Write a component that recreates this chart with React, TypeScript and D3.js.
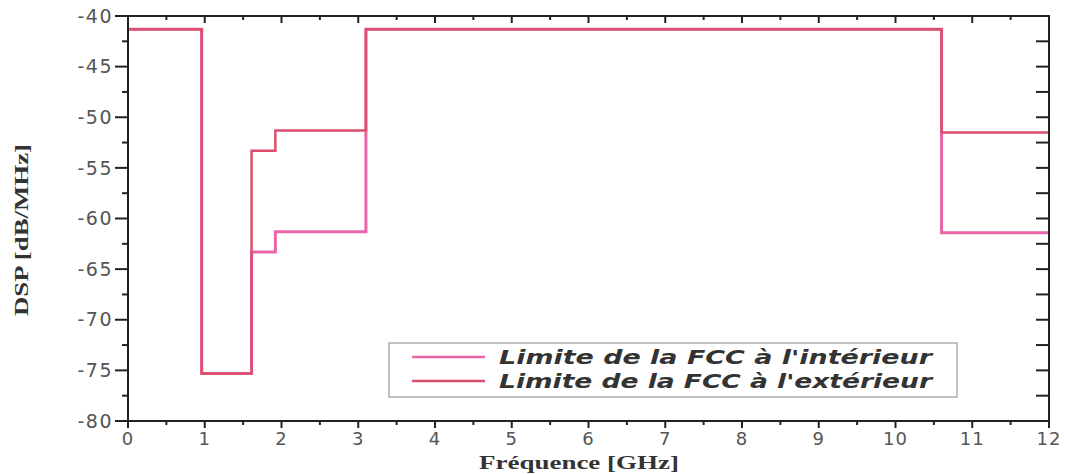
import React from "react";
import * as d3 from "d3";

const freqBreaks = [0, 0.96, 1.61, 1.92, 3.1, 10.6, 12];
const indoorValues = [-41.3, -75.3, -63.3, -61.3, -41.3, -61.4];
const outdoorValues = [-41.3, -75.3, -53.3, -51.3, -41.3, -51.5];
const xTicks = [0, 1, 2, 3, 4, 5, 6, 7, 8, 9, 10, 11, 12];
const yTicks = [-40, -45, -50, -55, -60, -65, -70, -75, -80];
const seriesNames = ["Limite de la FCC à l'intérieur", "Limite de la FCC à l'extérieur"];
const seriesColors = ["#e866a8", "#dc4f6c"];

const W = 1065, H = 474;
const L = 128, R = 1049, T = 16, B = 421;

function stepPoints(vals: number[]): [number, number][] {
  const pts: [number, number][] = [];
  vals.forEach((v, i) => {
    pts.push([freqBreaks[i], v]);
    pts.push([freqBreaks[i + 1], v]);
  });
  return pts;
}

export default function App() {
  const x = d3.scaleLinear().domain([0, 12]).range([L, R]);
  const y = d3.scaleLinear().domain([-80, -40]).range([B, T]);
  const line = d3.line<[number, number]>().x(d => x(d[0])).y(d => y(d[1]));
  const xMinor = d3.range(0.5, 12, 1);
  const yMinor = d3.range(-77.5, -40, 5);
  const axisColor = "#222";
  const tickFont = "DejaVu Sans, Verdana, sans-serif";
  const serif = "Liberation Serif, Times New Roman, serif";

  return (
    <svg width={W} height={H} style={{ position: "absolute", left: 0, top: 0, background: "#fff" }}>
      {/* series */}
      <path d={line(stepPoints(indoorValues)) || ""} fill="none" stroke={seriesColors[0]} strokeWidth={3} />
      <path d={line(stepPoints(outdoorValues)) || ""} fill="none" stroke={seriesColors[1]} strokeWidth={2.5} />

      {/* frame */}
      <rect x={L} y={T} width={R - L} height={B - T} fill="none" stroke={axisColor} strokeWidth={2} />

      {/* bottom ticks (outward) and top ticks (inward) */}
      {xTicks.map(t => (
        <g key={"xt" + t}>
          <line x1={x(t)} x2={x(t)} y1={B} y2={B + 7} stroke={axisColor} strokeWidth={2} />
          <line x1={x(t)} x2={x(t)} y1={T} y2={T + 7} stroke={axisColor} strokeWidth={2} />
          <text x={x(t)} y={445} textAnchor="middle" fontSize={18} letterSpacing={1} fill="#555" fontFamily={tickFont}>{t}</text>
        </g>
      ))}
      {xMinor.map(t => (
        <g key={"xm" + t}>
          <line x1={x(t)} x2={x(t)} y1={B} y2={B + 4} stroke={axisColor} strokeWidth={2} />
          <line x1={x(t)} x2={x(t)} y1={T} y2={T + 4} stroke={axisColor} strokeWidth={2} />
        </g>
      ))}

      {/* left ticks (outward) and right ticks (inward) */}
      {yTicks.map(t => (
        <g key={"yt" + t}>
          <line x1={L - 13} x2={L} y1={y(t)} y2={y(t)} stroke={axisColor} strokeWidth={2} />
          <line x1={R - 13} x2={R} y1={y(t)} y2={y(t)} stroke={axisColor} strokeWidth={2} />
          <text x={L - 15} y={y(t)} dy="0.35em" textAnchor="end" fontSize={19} letterSpacing={1.5} fill="#555" fontFamily={tickFont}>{t}</text>
        </g>
      ))}
      {yMinor.map(t => (
        <g key={"ym" + t}>
          <line x1={L - 6} x2={L} y1={y(t)} y2={y(t)} stroke={axisColor} strokeWidth={2} />
          <line x1={R - 13} x2={R} y1={y(t)} y2={y(t)} stroke={axisColor} strokeWidth={2} />
        </g>
      ))}

      {/* axis titles */}
      <text x={579} y={469} textAnchor="middle" fontSize={19} fontWeight="bold" fill="#333" fontFamily={serif} textLength={200} lengthAdjust="spacingAndGlyphs">Fréquence [GHz]</text>
      <text transform={`translate(28,230) rotate(-90)`} textAnchor="middle" fontSize={19} fontWeight="bold" fill="#333" fontFamily={serif} textLength={172} lengthAdjust="spacingAndGlyphs">DSP [dB/MHz]</text>

      {/* legend */}
      <rect x={389} y={343} width={568} height={54} fill="#fff" stroke="#999" strokeWidth={1.2} />
      {seriesNames.map((n, i) => (
        <g key={n}>
          <line x1={412} x2={485} y1={357 + i * 24} y2={357 + i * 24} stroke={seriesColors[i]} strokeWidth={2.5} />
          <text x={499} y={357 + i * 24} dy="0.36em" fontSize={19} fontStyle="italic" fontWeight="bold" fill="#333" fontFamily={tickFont} textLength={433} lengthAdjust="spacingAndGlyphs">{n}</text>
        </g>
      ))}
    </svg>
  );
}
